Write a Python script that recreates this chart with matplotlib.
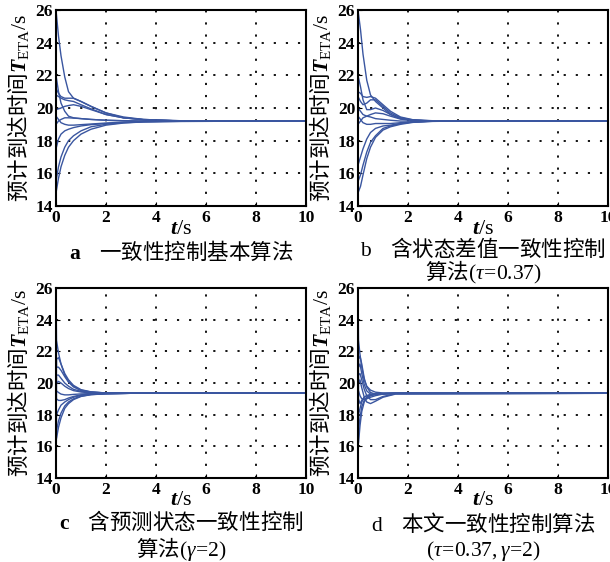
"""Four-panel ETA consensus comparison figure."""

import matplotlib
matplotlib.use('Agg')
import matplotlib.pyplot as plt

plt.rcParams['font.family'] = ['Liberation Serif', 'Noto Sans CJK SC']
plt.rcParams['mathtext.fontset'] = 'custom'
plt.rcParams['mathtext.rm'] = 'Liberation Serif'
plt.rcParams['mathtext.it'] = 'Liberation Serif:italic'
plt.rcParams['mathtext.bf'] = 'Liberation Serif:bold'
plt.rcParams['mathtext.bfit'] = 'Liberation Serif:italic:bold'

CJK = 'Noto Sans CJK SC'
LINE_COLOR = '#3a56a0'

# ---- panel a: basic consensus algorithm ----
t_a = [0, 0.1, 0.2, 0.35, 0.5, 0.7, 1.0, 1.4, 2.0, 2.7, 3.5, 5, 10]
eta_a = [
    [26.0, 24.4, 23.2, 21.9, 21.0, 20.6, 20.4, 20.1, 19.7, 19.4, 19.3, 19.2, 19.2],
    [21.2, 20.9, 20.7, 20.6, 20.6, 20.6, 20.4, 20.1, 19.7, 19.45, 19.3, 19.2, 19.2],
    [20.8, 20.7, 20.6, 20.5, 20.45, 20.4, 20.2, 19.95, 19.6, 19.4, 19.28, 19.22, 19.2],
    [19.9, 19.95, 20.0, 20.1, 20.15, 20.2, 20.1, 19.9, 19.6, 19.4, 19.28, 19.22, 19.2],
    [22.0, 21.0, 20.3, 19.8, 19.5, 19.4, 19.35, 19.3, 19.25, 19.22, 19.2, 19.2, 19.2],
    [19.0, 19.2, 19.3, 19.4, 19.4, 19.38, 19.35, 19.3, 19.25, 19.22, 19.2, 19.2, 19.2],
    [19.5, 19.3, 19.1, 19.0, 18.95, 18.95, 18.98, 19.02, 19.08, 19.13, 19.17, 19.2, 19.2],
    [17.5, 18.1, 18.4, 18.6, 18.7, 18.8, 18.9, 18.98, 19.05, 19.12, 19.17, 19.2, 19.2],
    [15.5, 16.4, 17.0, 17.6, 18.0, 18.3, 18.6, 18.85, 19.0, 19.1, 19.15, 19.18, 19.2],
    [14.8, 15.7, 16.4, 17.1, 17.6, 18.0, 18.4, 18.7, 18.95, 19.08, 19.15, 19.18, 19.2],
]

# ---- panel b: with state difference (tau = 0.37) ----
t_b = [0, 0.1, 0.2, 0.35, 0.5, 0.7, 1.0, 1.3, 1.7, 2.2, 3.0, 4, 10]
eta_b = [
    [26.0, 24.8, 23.3, 21.7, 20.8, 20.4, 20.0, 19.6, 19.35, 19.25, 19.2, 19.2, 19.2],
    [21.0, 20.9, 20.7, 20.65, 20.7, 20.6, 20.2, 19.8, 19.45, 19.28, 19.22, 19.2, 19.2],
    [20.7, 20.4, 20.2, 20.3, 20.5, 20.5, 20.1, 19.7, 19.4, 19.27, 19.21, 19.2, 19.2],
    [22.0, 21.3, 20.5, 19.9, 19.9, 20.0, 19.85, 19.6, 19.35, 19.25, 19.2, 19.2, 19.2],
    [20.0, 19.8, 19.6, 19.5, 19.6, 19.7, 19.65, 19.5, 19.32, 19.24, 19.2, 19.2, 19.2],
    [19.0, 19.2, 19.4, 19.5, 19.45, 19.35, 19.3, 19.25, 19.2, 19.2, 19.2, 19.2, 19.2],
    [19.5, 19.3, 19.1, 19.0, 19.0, 19.05, 19.05, 19.05, 19.1, 19.15, 19.2, 19.2, 19.2],
    [16.5, 17.0, 17.5, 18.1, 18.5, 18.75, 18.9, 18.95, 19.05, 19.15, 19.2, 19.2, 19.2],
    [15.5, 15.9, 16.5, 17.3, 17.9, 18.3, 18.75, 18.9, 19.05, 19.14, 19.19, 19.2, 19.2],
    [14.8, 15.2, 15.9, 16.9, 17.6, 18.2, 18.65, 18.85, 19.0, 19.12, 19.18, 19.2, 19.2],
]

# ---- panel c: with predicted state (gamma = 2) ----
t_c = [0, 0.02, 0.1, 0.2, 0.35, 0.5, 0.7, 1.0, 1.4, 2.0, 3, 10]
eta_c = [
    [26.0, 22.7, 21.9, 21.2, 20.5, 20.1, 19.8, 19.55, 19.43, 19.37, 19.35, 19.35],
    [15.0, 21.5, 21.6, 21.2, 20.6, 20.2, 19.85, 19.58, 19.44, 19.37, 19.35, 19.35],
    [24.0, 21.0, 21.0, 20.8, 20.4, 20.05, 19.75, 19.52, 19.42, 19.37, 19.35, 19.35],
    [17.0, 20.5, 20.5, 20.3, 20.0, 19.8, 19.6, 19.47, 19.4, 19.36, 19.35, 19.35],
    [21.0, 20.0, 20.1, 20.0, 19.8, 19.65, 19.52, 19.43, 19.38, 19.36, 19.35, 19.35],
    [19.3, 19.5, 19.4, 19.3, 19.25, 19.25, 19.28, 19.31, 19.33, 19.34, 19.35, 19.35],
    [22.0, 19.0, 18.9, 18.9, 18.95, 19.05, 19.15, 19.25, 19.3, 19.33, 19.35, 19.35],
    [16.0, 18.0, 18.3, 18.6, 18.8, 18.95, 19.1, 19.22, 19.29, 19.33, 19.35, 19.35],
    [14.8, 17.0, 17.6, 18.1, 18.55, 18.8, 19.0, 19.17, 19.27, 19.32, 19.35, 19.35],
    [20.0, 16.5, 17.2, 17.8, 18.4, 18.7, 18.95, 19.15, 19.26, 19.32, 19.35, 19.35],
]

# ---- panel d: proposed algorithm (tau = 0.37, gamma = 2) ----
t_d = [0, 0.02, 0.08, 0.15, 0.25, 0.35, 0.5, 0.7, 1.0, 1.5, 10]
eta_d = [
    [26.0, 22.7, 21.8, 21.0, 20.2, 19.8, 19.55, 19.42, 19.37, 19.35, 19.35],
    [15.0, 21.5, 21.7, 21.2, 20.3, 19.75, 19.4, 19.3, 19.32, 19.35, 19.35],
    [24.0, 21.0, 21.2, 20.6, 19.9, 19.5, 19.3, 19.28, 19.32, 19.35, 19.35],
    [17.0, 20.5, 20.6, 20.2, 19.6, 19.2, 18.95, 18.95, 19.15, 19.32, 19.35],
    [21.0, 20.0, 20.2, 19.7, 19.1, 18.8, 18.7, 18.85, 19.1, 19.3, 19.35],
    [19.3, 19.5, 19.2, 19.0, 18.95, 19.0, 19.1, 19.2, 19.3, 19.34, 19.35],
    [22.0, 19.0, 18.7, 18.9, 19.1, 19.2, 19.25, 19.3, 19.33, 19.35, 19.35],
    [16.0, 18.0, 18.4, 18.8, 19.1, 19.2, 19.28, 19.32, 19.34, 19.35, 19.35],
    [14.8, 17.0, 17.8, 18.5, 18.9, 19.1, 19.2, 19.28, 19.33, 19.35, 19.35],
    [20.0, 16.2, 17.3, 18.2, 18.8, 19.05, 19.2, 19.28, 19.33, 19.35, 19.35],
]

x_ticks = [0, 2, 4, 6, 8, 10]
y_ticks = [14, 16, 18, 20, 22, 24, 26]

ylabel = r'预计到达时间$\mathbfit{T}_{\mathrm{ETA}}/\mathrm{s}$'
xlabel = r'$\mathbfit{t}/\mathrm{s}$'

captions = [
    [r'$\mathbf{a}$    一致性控制基本算法'],
    [r'$\mathrm{b}$    含状态差值一致性控制', r'算法$(\tau\!=\!0.37)$'],
    [r'$\mathbf{c}$    含预测状态一致性控制', r'算法$(\gamma\!=\!2)$'],
    [r'$\mathrm{d}$    本文一致性控制算法', r'$(\tau\!=\!0.37,\gamma\!=\!2)$'],
]

W, H = 610, 562
fig = plt.figure(figsize=(W / 100, H / 100), dpi=100)

# axes boxes in pixels: left, top, right, bottom
boxes = [(56, 10, 306, 206), (358, 10, 608, 206),
         (56, 288, 306, 478), (358, 288, 608, 478)]
caption_y = [[252], [249, 272], [522, 549], [524, 551]]

panels = [(t_a, eta_a), (t_b, eta_b), (t_c, eta_c), (t_d, eta_d)]

for k, ((t, curves), (l, tp, r, b)) in enumerate(zip(panels, boxes)):
    ax = fig.add_axes([l / W, 1 - b / H, (r - l) / W, (b - tp) / H])
    for y in curves:
        ax.plot(t, y, color=LINE_COLOR, linewidth=1.0)
    ax.set_xlim(0, 10)
    ax.set_ylim(14, 26)
    ax.set_xticks(x_ticks, labels=[str(v) for v in x_ticks],
                  fontsize=12.5, fontweight='bold')
    ax.set_yticks(y_ticks, labels=[str(v) for v in y_ticks],
                  fontsize=12.5, fontweight='bold')
    ax.tick_params(direction='in', length=3)
    ax.tick_params(axis='x', pad=3)
    ax.tick_params(axis='y', pad=2)
    ax.grid(True, color='black', linestyle=(0, (1.2, 5.5)), linewidth=1.3)
    for sp in ax.spines.values():
        sp.set_linewidth(1.5)

    ax.set_ylabel(ylabel, family=CJK, fontsize=15.5)
    ax.yaxis.set_label_coords(-0.1, 0.5)
    ax.set_xlabel(xlabel, fontsize=16)
    ax.xaxis.set_label_coords(0.5, -0.07)

    cx = (l + r) / 2 / W
    for line, yy in zip(captions[k], caption_y[k]):
        fig.text(cx, 1 - yy / H, line, family=CJK, fontsize=15.5,
                 ha='center', va='center')

fig.savefig('out.png', dpi=100)
